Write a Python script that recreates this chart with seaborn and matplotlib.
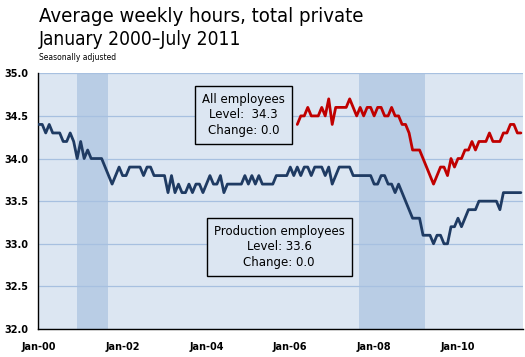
import matplotlib
matplotlib.use("Agg")
import matplotlib.pyplot as plt
import numpy as np
import pandas as pd
import seaborn as sns

# months since Jan 2000 (0 = Jan-00 ... 138 = Jul-11)
production_hours = [
    34.4, 34.4, 34.3, 34.4, 34.3, 34.3, 34.3, 34.2, 34.2, 34.3,   # 2000
    34.2, 34.0, 34.2, 34.0, 34.1, 34.0, 34.0, 34.0, 34.0, 33.9,
    33.8, 33.7, 33.8, 33.9, 33.8, 33.8, 33.9, 33.9, 33.9, 33.9,
    33.8, 33.9, 33.9, 33.8, 33.8, 33.8, 33.8, 33.6, 33.8, 33.6,
    33.7, 33.6, 33.6, 33.7, 33.6, 33.7, 33.7, 33.6, 33.7, 33.8,
    33.7, 33.7, 33.8, 33.6, 33.7, 33.7, 33.7, 33.7, 33.7, 33.8,
    33.7, 33.8, 33.7, 33.8, 33.7, 33.7, 33.7, 33.7, 33.8, 33.8,
    33.8, 33.8, 33.9, 33.8, 33.9, 33.8, 33.9, 33.9, 33.8, 33.9,
    33.9, 33.9, 33.8, 33.9, 33.7, 33.8, 33.9, 33.9, 33.9, 33.9,
    33.8, 33.8, 33.8, 33.8, 33.8, 33.8, 33.7, 33.7, 33.8, 33.8,
    33.7, 33.7, 33.6, 33.7, 33.6, 33.5, 33.4, 33.3, 33.3, 33.3,
    33.1, 33.1, 33.1, 33.0, 33.1, 33.1, 33.0, 33.0, 33.2, 33.2,
    33.3, 33.2, 33.3, 33.4, 33.4, 33.4, 33.5, 33.5, 33.5, 33.5,
    33.5, 33.5, 33.4, 33.6, 33.6, 33.6, 33.6, 33.6, 33.6,
]

# all-employee series starts Mar 2006 (month 74)
all_start = 74
all_hours = [
    34.4, 34.5, 34.5, 34.6, 34.5, 34.5, 34.5, 34.6, 34.5, 34.7,
    34.4, 34.6, 34.6, 34.6, 34.6, 34.7, 34.6, 34.5, 34.6, 34.5,
    34.6, 34.6, 34.5, 34.6, 34.6, 34.5, 34.5, 34.6, 34.5, 34.5,
    34.4, 34.4, 34.3, 34.1, 34.1, 34.1, 34.0, 33.9, 33.8, 33.7,
    33.8, 33.9, 33.9, 33.8, 34.0, 33.9, 34.0, 34.0, 34.1, 34.1,
    34.2, 34.1, 34.2, 34.2, 34.2, 34.3, 34.2, 34.2, 34.2, 34.3,
    34.3, 34.4, 34.4, 34.3, 34.3,
]

# recession shading, in months since Jan 2000 (as drawn on the original)
recession_start = [10.9, 91.8]
recession_end = [19.8, 110.6]

tick_months = [0, 24, 48, 72, 96, 120]
tick_labels = ['Jan-00', 'Jan-02', 'Jan-04', 'Jan-06', 'Jan-08', 'Jan-10']
y_ticks = [32.0, 32.5, 33.0, 33.5, 34.0, 34.5, 35.0]

df = pd.concat([
    pd.DataFrame({'month': np.arange(len(production_hours)),
                  'hours': production_hours, 'series': 'Production'}),
    pd.DataFrame({'month': np.arange(all_start, all_start + len(all_hours)),
                  'hours': all_hours, 'series': 'All'}),
])

sns.set_style('white')
plt.rcParams['font.family'] = ['DejaVu Sans']
plt.rcParams['text.color'] = 'black'
plt.rcParams['xtick.color'] = 'black'
plt.rcParams['ytick.color'] = 'black'

bg = '#dce6f2'
fig = plt.figure(figsize=(5.25, 3.57), dpi=100)
ax = fig.add_axes([0.0718, 0.0784, 0.9250, 0.7163])
ax.set_facecolor(bg)

for s, e in zip(recession_start, recession_end):
    ax.axvspan(s, e, color='#b9cde5', lw=0, zorder=0)

sns.lineplot(data=df, x='month', y='hours', hue='series',
             palette={'Production': '#1f3b63', 'All': '#c00000'},
             linewidth=2.0, legend=False, ax=ax, zorder=3)

ax.set_xlim(-0.3, 138.7)
ax.set_ylim(32.0, 35.0)
ax.set_yticks(y_ticks)
ax.set_yticklabels([f'{v:.1f}' for v in y_ticks])
ax.set_xticks(tick_months)
ax.set_xticklabels(tick_labels)
ax.grid(axis='y', color='#a7c0e0', linewidth=0.9)
ax.set_axisbelow(True)
ax.set_xlabel('')
ax.set_ylabel('')

for side in ['top', 'right']:
    ax.spines[side].set_visible(False)
for side in ['left', 'bottom']:
    ax.spines[side].set_color('black')
    ax.spines[side].set_linewidth(1.0)

ax.tick_params(axis='both', direction='out', length=3, width=1,
               color='black', labelcolor='black', labelsize=7)
ax.tick_params(axis='x', pad=6)
for lab in ax.get_xticklabels() + ax.get_yticklabels():
    lab.set_fontweight('bold')

box = dict(boxstyle='square,pad=0.6', facecolor=bg, edgecolor='black',
           linewidth=1)
ax.text(0.4237, 0.838, 'All employees\nLevel:  34.3\nChange: 0.0',
        transform=ax.transAxes, ha='center', va='center', fontsize=8.5,
        linespacing=1.25, bbox=box, zorder=5)
ax.text(0.497, 0.321, 'Production employees\nLevel: 33.6\nChange: 0.0',
        transform=ax.transAxes, ha='center', va='center', fontsize=8.5,
        linespacing=1.25, bbox=box, zorder=5)

fig.text(0.074, 0.955, 'Average weekly hours, total private',
         fontsize=14.6, va='center', ha='left', fontstretch='condensed')
fig.text(0.074, 0.888, 'January 2000\u2013July 2011',
         fontsize=13.8, va='center', ha='left', fontstretch='condensed')
fig.text(0.074, 0.840, 'Seasonally adjusted', fontsize=5.5,
         va='center', ha='left')

fig.savefig('out.png', dpi=100)
